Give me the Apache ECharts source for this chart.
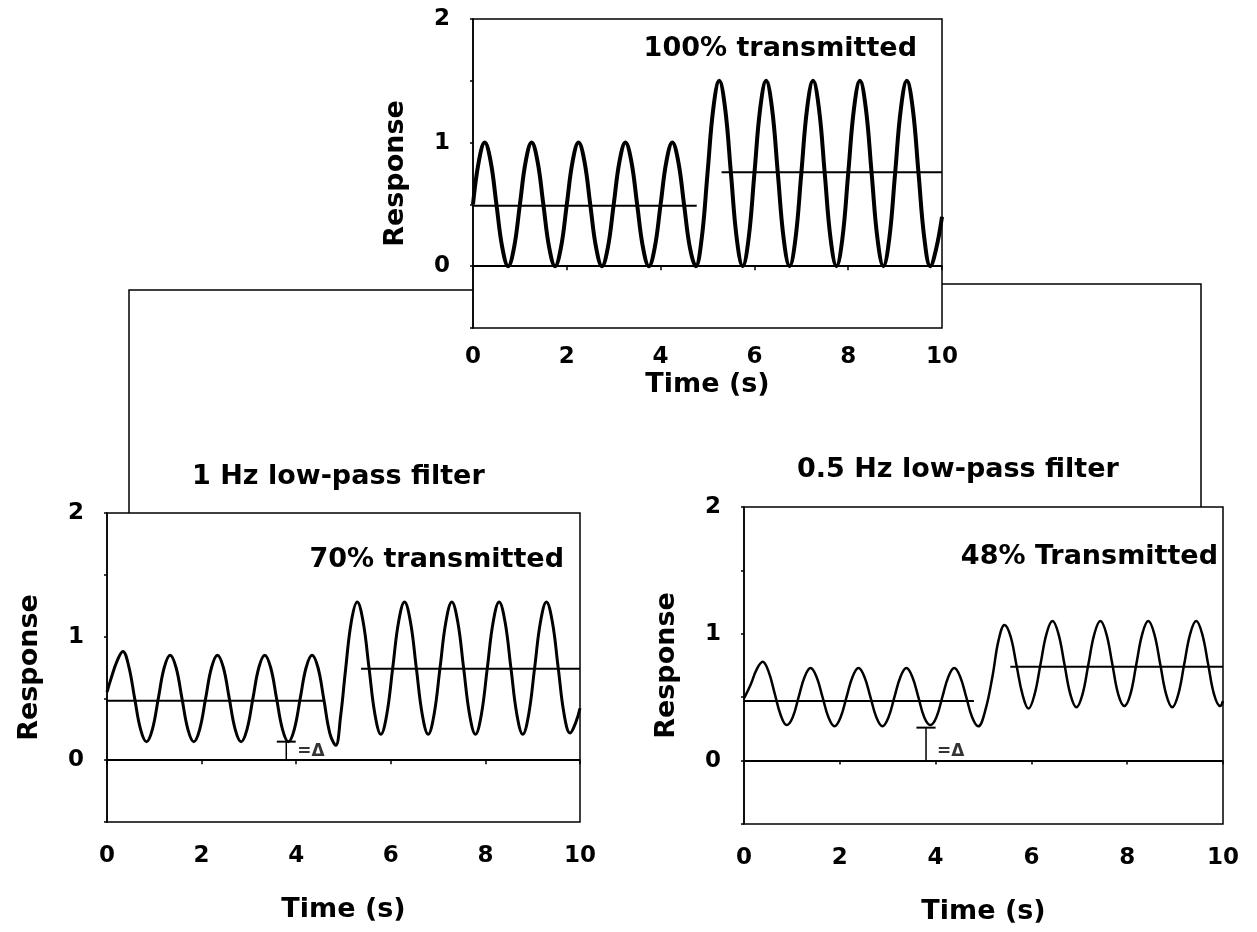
<!DOCTYPE html>
<html>
<head>
<meta charset="utf-8">
<script src="https://cdn.jsdelivr.net/npm/echarts@6/dist/echarts.min.js"></script>
<style>
  html, body { margin: 0; padding: 0; background: #fff; }
  #chart { width: 1257px; height: 932px; }
</style>
</head>
<body>
<div id="chart"></div>
<script>
// unfiltered stimulus (100% transmitted), every 1/8 s
const topTime = [
  0, 0.125, 0.25, 0.375, 0.5, 0.625, 0.75, 0.875,
  1, 1.125, 1.25, 1.375, 1.5, 1.625, 1.75, 1.875,
  2, 2.125, 2.25, 2.375, 2.5, 2.625, 2.75, 2.875,
  3, 3.125, 3.25, 3.375, 3.5, 3.625, 3.75, 3.875,
  4, 4.125, 4.25, 4.375, 4.5, 4.625, 4.75, 4.875,
  5, 5.125, 5.25, 5.375, 5.5, 5.625, 5.75, 5.875,
  6, 6.125, 6.25, 6.375, 6.5, 6.625, 6.75, 6.875,
  7, 7.125, 7.25, 7.375, 7.5, 7.625, 7.75, 7.875,
  8, 8.125, 8.25, 8.375, 8.5, 8.625, 8.75, 8.875,
  9, 9.125, 9.25, 9.375, 9.5, 9.625, 9.75, 9.875, 10]
const topResp = [
  0.5, 0.85, 1, 0.85, 0.5, 0.15, 0, 0.15,
  0.5, 0.85, 1, 0.85, 0.5, 0.15, 0, 0.15,
  0.5, 0.85, 1, 0.85, 0.5, 0.15, 0, 0.15,
  0.5, 0.85, 1, 0.85, 0.5, 0.15, 0, 0.15,
  0.5, 0.85, 1, 0.85, 0.5, 0.15, 0, 0.22,
  0.75, 1.28, 1.5, 1.28, 0.75, 0.22, 0, 0.22,
  0.75, 1.28, 1.5, 1.28, 0.75, 0.22, 0, 0.22,
  0.75, 1.28, 1.5, 1.28, 0.75, 0.22, 0, 0.22,
  0.75, 1.28, 1.5, 1.28, 0.75, 0.22, 0, 0.22,
  0.75, 1.28, 1.5, 1.28, 0.75, 0.22, 0, 0.14, 0.4]

// 1 Hz low-pass (70% transmitted)
const lp1Time = [
  0, 0.085, 0.21, 0.335, 0.46, 0.585, 0.71, 0.835, 0.96,
  1.085, 1.21, 1.335, 1.46, 1.585, 1.71, 1.835, 1.96,
  2.085, 2.21, 2.335, 2.46, 2.585, 2.71, 2.835, 2.96,
  3.085, 3.21, 3.335, 3.46, 3.585, 3.71, 3.835, 3.96,
  4.085, 4.21, 4.335, 4.46, 4.585, 4.71, 4.835, 4.94,
  5.04, 5.165, 5.29, 5.415, 5.54, 5.665, 5.79, 5.915,
  6.04, 6.165, 6.29, 6.415, 6.54, 6.665, 6.79, 6.915,
  7.04, 7.165, 7.29, 7.415, 7.54, 7.665, 7.79, 7.915,
  8.04, 8.165, 8.29, 8.415, 8.54, 8.665, 8.79, 8.915,
  9.04, 9.165, 9.29, 9.415, 9.54, 9.665, 9.79, 9.915, 10]
const lp1Resp = [
  0.55, 0.66, 0.8, 0.88, 0.76, 0.5, 0.25, 0.15, 0.25,
  0.5, 0.75, 0.85, 0.75, 0.5, 0.25, 0.15, 0.25,
  0.5, 0.75, 0.85, 0.75, 0.5, 0.25, 0.15, 0.25,
  0.5, 0.75, 0.85, 0.75, 0.5, 0.25, 0.15, 0.25,
  0.5, 0.75, 0.85, 0.75, 0.49, 0.22, 0.12, 0.36,
  0.72, 1.12, 1.28, 1.12, 0.745, 0.37, 0.21, 0.37,
  0.745, 1.12, 1.28, 1.12, 0.745, 0.37, 0.21, 0.37,
  0.745, 1.12, 1.28, 1.12, 0.745, 0.37, 0.21, 0.37,
  0.745, 1.12, 1.28, 1.12, 0.745, 0.37, 0.21, 0.37,
  0.745, 1.12, 1.28, 1.12, 0.745, 0.37, 0.22, 0.31, 0.42]

// 0.5 Hz low-pass (48% transmitted)
const lp05Time = [
  0, 0.14, 0.265, 0.39, 0.515, 0.64, 0.765, 0.89, 1.015,
  1.14, 1.265, 1.39, 1.515, 1.64, 1.765, 1.89, 2.015,
  2.14, 2.265, 2.39, 2.515, 2.64, 2.765, 2.89, 3.015,
  3.14, 3.265, 3.39, 3.515, 3.64, 3.765, 3.89, 4.015,
  4.14, 4.265, 4.39, 4.515, 4.64, 4.765, 4.89, 5.04,
  5.19, 5.315, 5.44, 5.565, 5.69, 5.815, 5.94, 6.065,
  6.19, 6.315, 6.44, 6.565, 6.69, 6.815, 6.94, 7.065,
  7.19, 7.315, 7.44, 7.565, 7.69, 7.815, 7.94, 8.065,
  8.19, 8.315, 8.44, 8.565, 8.69, 8.815, 8.94, 9.065,
  9.19, 9.315, 9.44, 9.565, 9.69, 9.815, 9.94, 10]
const lp05Resp = [
  0.49, 0.6, 0.72, 0.78, 0.7, 0.53, 0.36, 0.28, 0.34,
  0.5, 0.66, 0.73, 0.66, 0.5, 0.34, 0.27, 0.34,
  0.5, 0.66, 0.73, 0.66, 0.5, 0.34, 0.27, 0.34,
  0.5, 0.66, 0.73, 0.66, 0.5, 0.34, 0.28, 0.34,
  0.5, 0.66, 0.73, 0.66, 0.5, 0.34, 0.27, 0.4,
  0.67, 0.95, 1.07, 0.98, 0.75, 0.52, 0.41, 0.52,
  0.76, 1.0, 1.1, 1.0, 0.76, 0.52, 0.42, 0.52,
  0.76, 1.0, 1.1, 1.0, 0.76, 0.52, 0.43, 0.52,
  0.76, 1.0, 1.1, 1.0, 0.76, 0.52, 0.42, 0.52,
  0.76, 1.0, 1.1, 1.0, 0.76, 0.52, 0.43, 0.47]

// mean levels: [start, end, level]
const topMeans = [[0, 4.77, 0.49], [5.3, 10, 0.76]]
const lp1Means = [[0, 4.6, 0.48], [5.37, 10, 0.74]]
const lp05Means = [[0, 4.8, 0.47], [5.56, 10, 0.74]]

// minimum-above-zero marker: [time, level]
const lp1Delta = [3.79, 0.15]
const lp05Delta = [3.8, 0.26]

const panelNotes = ['100% transmitted', '70% transmitted', '48% Transmitted']
const filterTitles = ['1 Hz low-pass filter', '0.5 Hz low-pass filter']
const timeTicks = [0, 2, 4, 6, 8, 10]

const FONT = 'DejaVu Sans'
const grids = [
  { left: 473, top: 19, width: 469, height: 309 },
  { left: 107, top: 513, width: 473, height: 309 },
  { left: 744, top: 507, width: 479, height: 317 },
]

const zip = (t, v) => t.map((x, i) => [x, v[i]])

const xAxes = grids.map((g, i) => ({
  gridIndex: i,
  type: 'value',
  min: timeTicks[0],
  max: timeTicks[timeTicks.length - 1],
  interval: timeTicks[1] - timeTicks[0],
  axisLine: { show: true, lineStyle: { color: '#000', width: 1.5 } },
  axisTick: { show: true, length: 4, lineStyle: { color: '#000', width: 1.5 } },
  splitLine: { show: false },
  axisLabel: { margin: i === 0 ? 18 : 23, color: '#000', fontFamily: FONT, fontWeight: 'bold', fontSize: 23 },
  name: 'Time (s)',
  nameLocation: 'middle',
  nameGap: i === 0 ? 43 : 74,
  nameTextStyle: { color: '#000', fontFamily: FONT, fontWeight: 'bold', fontSize: 27 },
}))

const yAxes = grids.map((g, i) => ({
  gridIndex: i,
  type: 'value',
  min: -0.5,
  max: 2,
  interval: 0.5,
  axisLine: { show: true, lineStyle: { color: '#000', width: 1.5 } },
  axisTick: { show: true, length: 3, lineStyle: { color: '#000', width: 1.5 } },
  splitLine: { show: false },
  axisLabel: {
    margin: 23,
    color: '#000', fontFamily: FONT, fontWeight: 'bold', fontSize: 23,
    formatter: (v) => (v % 1 === 0 ? String(v) : ''),
  },
  name: 'Response',
  nameLocation: 'middle',
  nameGap: 64,
  nameTextStyle: { color: '#000', fontFamily: FONT, fontWeight: 'bold', fontSize: 27 },
}))

const panelSeries = (i, time, resp, width, means, delta) => {
  const out = [{
    type: 'line',
    xAxisIndex: i,
    yAxisIndex: i,
    data: zip(time, resp),
    smooth: 0.4,
    showSymbol: false,
    silent: true,
    lineStyle: { color: '#000', width },
    markLine: {
      silent: true,
      symbol: ['none', 'none'],
      label: { show: false },
      lineStyle: { color: '#000', width: 2, type: 'solid' },
      data: [{ yAxis: 0 }],
    },
  }]
  means.forEach(([a, b, lvl]) => out.push({
    type: 'line', xAxisIndex: i, yAxisIndex: i, silent: true, showSymbol: false,
    data: [[a, lvl], [b, lvl]],
    lineStyle: { color: '#000', width: 2 },
  }))
  if (delta) {
    const [t, lvl] = delta
    out.push({
      type: 'line', xAxisIndex: i, yAxisIndex: i, silent: true, showSymbol: false,
      data: [[t, 0], [t, lvl]],
      lineStyle: { color: '#000', width: 1.5 },
    }, {
      type: 'line', xAxisIndex: i, yAxisIndex: i, silent: true, showSymbol: false,
      data: [[t - 0.2, lvl], [t + 0.2, lvl]],
      lineStyle: { color: '#000', width: 2 },
    }, {
      type: 'scatter', xAxisIndex: i, yAxisIndex: i, silent: true,
      symbolSize: 1,
      itemStyle: { color: 'rgba(0,0,0,0)' },
      data: [[t + 0.22, 0.07]],
      label: {
        show: true, position: 'right', distance: 0,
        formatter: '=\u0394', color: '#000', fontFamily: FONT, fontWeight: 'bold', fontSize: 17,
      },
    })
  }
  return out
}

const noteStyle = { color: '#000', fontFamily: FONT, fontWeight: 'bold', fontSize: 27 }

const chart = echarts.init(document.getElementById('chart'), null, { renderer: 'canvas' })
chart.setOption({
  animation: false,
  backgroundColor: '#fff',
  grid: grids.map((g) => ({ ...g, show: true, borderColor: '#000', borderWidth: 1.5, containLabel: false })),
  xAxis: xAxes,
  yAxis: yAxes,
  title: [
    { text: panelNotes[0], right: 1257 - 917, top: 35, padding: 0, textStyle: noteStyle },
    { text: panelNotes[1], right: 1257 - 564, top: 546, padding: 0, textStyle: noteStyle },
    { text: panelNotes[2], right: 1257 - 1218, top: 543, padding: 0, textStyle: noteStyle },
    { text: filterTitles[0], left: 192, top: 463, padding: 0, textStyle: noteStyle },
    { text: filterTitles[1], left: 797, top: 456, padding: 0, textStyle: noteStyle },
  ],
  // connector lines from the stimulus panel to the two filtered panels
  graphic: [
    {
      type: 'polyline', silent: true,
      shape: { points: [[grids[0].left, 290], [129, 290], [129, grids[1].top]] },
      style: { stroke: '#000', lineWidth: 1.5, fill: null },
    },
    {
      type: 'polyline', silent: true,
      shape: { points: [[grids[0].left + grids[0].width, 284], [1201, 284], [1201, grids[2].top]] },
      style: { stroke: '#000', lineWidth: 1.5, fill: null },
    },
  ],
  series: [
    ...panelSeries(0, topTime, topResp, 4, topMeans, null),
    ...panelSeries(1, lp1Time, lp1Resp, 3, lp1Means, lp1Delta),
    ...panelSeries(2, lp05Time, lp05Resp, 2.5, lp05Means, lp05Delta),
  ],
})
</script>
</body>
</html>
